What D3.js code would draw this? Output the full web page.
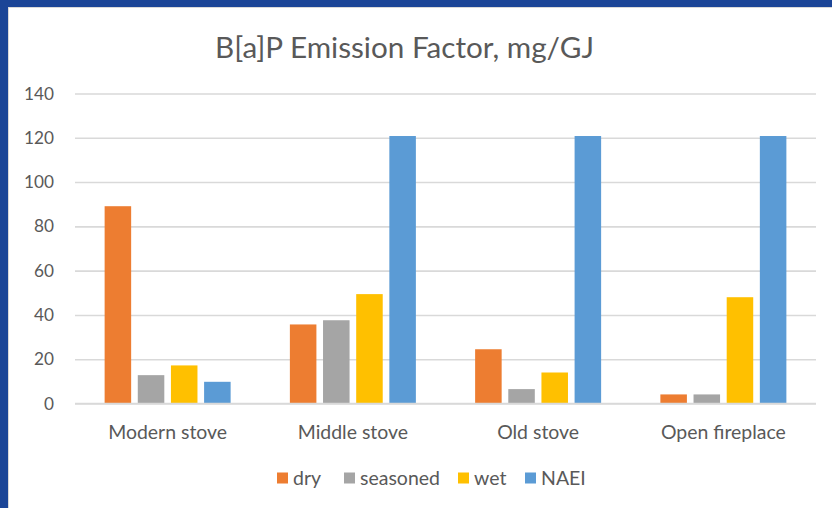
<!DOCTYPE html>
<html>
<head>
<meta charset="utf-8">
<script src="https://cdn.jsdelivr.net/npm/d3@7/dist/d3.min.js"></script>
<style>
  html, body { margin: 0; padding: 0; background: #ffffff; }
  svg { display: block; }
  text { font-family: Lato, "Open Sans", sans-serif; fill: #595959; }
</style>
</head>
<body>
<svg id="chart" width="832" height="508"></svg>
<script>
// B[a]P emission factors by appliance type and fuel condition (mg/GJ)
const categories = ["Modern stove", "Middle stove", "Old stove", "Open fireplace"];
const seriesNames = ["dry", "seasoned", "wet", "NAEI"];
const dry      = [89.1, 35.7, 24.5, 4.1];
const seasoned = [12.8, 37.6, 6.5, 4.1];
const wet      = [17.2, 49.4, 14.0, 48.0];
const naei     = [9.8, 120.8, 120.8, 120.8];
const yTicks   = [0, 20, 40, 60, 80, 100, 120, 140];
const colors   = ["#ED7D31", "#A5A5A5", "#FFC000", "#5B9BD5"];
const title    = "B[a]P Emission Factor, mg/GJ";

const seriesValues = [dry, seasoned, wet, naei];

const svg = d3.select("#chart");
const W = 832, H = 508;

// slide frame
svg.append("rect").attr("x", 0).attr("y", 0).attr("width", W).attr("height", H).attr("fill", "#ffffff");
svg.append("rect").attr("x", 0).attr("y", 0).attr("width", W).attr("height", 7).attr("fill", "#1B4597");
svg.append("rect").attr("x", 0).attr("y", 0).attr("width", 8).attr("height", H).attr("fill", "#1B4597");
svg.append("line").attr("x1", 8.5).attr("x2", 8.5).attr("y1", 7).attr("y2", H)
  .attr("stroke", "#d9d9d9").attr("stroke-width", 1);
svg.append("line").attr("x1", 8).attr("x2", W).attr("y1", 7.5).attr("y2", 7.5)
  .attr("stroke", "#d9d9d9").attr("stroke-width", 1);

// helper: pick a font size so a sample string spans the given width
function fitSize(sample, targetW, base) {
  const t = svg.append("text").attr("font-size", base).text(sample);
  const w = t.node().getComputedTextLength();
  t.remove();
  return base * targetW / w;
}

const plot = { left: 75, right: 816, top: 93.5, bottom: 403.5 };

const x0 = d3.scaleBand().domain(categories).range([plot.left, plot.right]).paddingInner(0).paddingOuter(0);
// group of 4 bars occupies 126px of each band
const groupW = 126;
const x1 = d3.scaleBand().domain(seriesNames)
  .range([(x0.bandwidth() - groupW) / 2, (x0.bandwidth() + groupW) / 2])
  .paddingInner(0.2).paddingOuter(0);
const y = d3.scaleLinear().domain([0, 140]).range([plot.bottom, plot.top]);

// gridlines and value labels
const yAxis = d3.axisLeft(y).tickValues(yTicks).tickSize(-(plot.right - plot.left)).tickFormat(d3.format("d")).tickPadding(20);
const tickSize = fitSize("140", 30, 18);
const gy = svg.append("g").attr("transform", `translate(${plot.left},0)`).call(yAxis);
gy.select(".domain").remove();
gy.selectAll(".tick line").attr("stroke", "#d9d9d9").attr("stroke-width", 1.6);
gy.selectAll(".tick text").attr("font-size", tickSize).attr("fill", "#595959")
  .attr("font-family", "Lato, 'Open Sans', sans-serif").attr("x", -21);

// bars
const groups = svg.append("g").selectAll("g").data(categories).join("g")
  .attr("transform", d => `translate(${x0(d)},0)`);
groups.selectAll("rect")
  .data((c, i) => seriesNames.map((s, j) => ({ s, v: seriesValues[j][i], j })))
  .join("rect")
  .attr("x", d => x1(d.s))
  .attr("width", x1.bandwidth())
  .attr("y", d => y(d.v))
  .attr("height", d => y(0) - y(d.v))
  .attr("fill", d => colors[d.j]);

// baseline
svg.append("line").attr("x1", plot.left).attr("x2", plot.right)
  .attr("y1", y(0)).attr("y2", y(0)).attr("stroke", "#d9d9d9").attr("stroke-width", 1.6);

// category labels
const catSize = fitSize("Modern stove", 119, 18);
const xAxis = d3.axisBottom(x0).tickSize(0).tickPadding(0);
const gx = svg.append("g").attr("transform", `translate(0,${plot.bottom})`).call(xAxis);
gx.select(".domain").remove();
gx.selectAll(".tick text").attr("font-size", catSize).attr("fill", "#595959")
  .attr("font-family", "Lato, 'Open Sans', sans-serif")
  .attr("y", 29).attr("dy", "0.35em");

// title
const titleSize = fitSize(title, 379, 26);
svg.append("text").attr("x", 404.5).attr("y", 48).attr("dy", "0.35em")
  .attr("text-anchor", "middle").attr("font-size", titleSize).text(title);

// legend
const legSize = fitSize("seasoned", 80, 18);
const legX = [277, 344, 458, 525];
const legend = svg.append("g").selectAll("g").data(seriesNames).join("g")
  .attr("transform", (d, i) => `translate(${legX[i]},478)`);
legend.append("rect").attr("x", 0).attr("y", -5.5).attr("width", 11).attr("height", 11)
  .attr("fill", (d, i) => colors[i]);
legend.append("text").attr("x", 16).attr("y", 0).attr("dy", "0.35em")
  .attr("font-size", legSize).text(d => d);
</script>
</body>
</html>
